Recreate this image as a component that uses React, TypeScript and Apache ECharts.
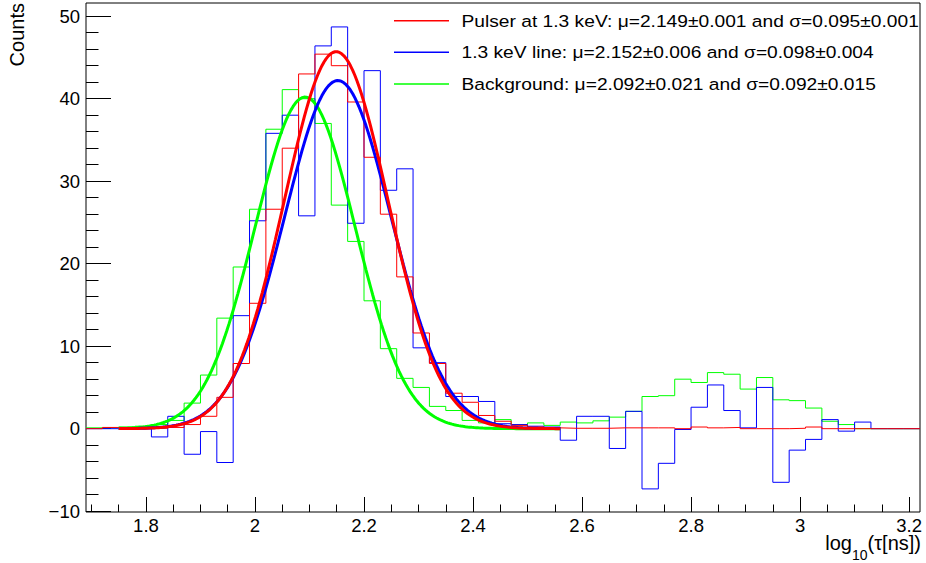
import React, { useEffect, useRef } from "react";
import * as echarts from "echarts";

// ---- Data ----
const BIN_START = 1.69;
const BIN_WIDTH = 0.03;

// Pulser at 1.3 keV (red histogram)
const pulserCounts = [
  0.0, 0.15, 0.1, 0.05, 0.05, 0.15, 0.5, 1.5, 3.8, 7.9,
  15.2, 26.6, 34.0, 43.0, 45.4, 44.0, 39.6, 32.9, 26.0, 18.4,
  11.6, 7.9, 4.3, 3.2, 1.6, 0.9, 0.4, 0.2, 0.1, 0.05,
  0.05, 0.05, 0.1, 0.1, 0.1, 0.1, 0.0, 0.2, 0.1, 0.15,
  0.0, 0.0, 0.0, 0.05, 0.2, 0.0, 0.0, 0.0, 0.0, 0.0, 0.0,
];

// 1.3 keV line (blue histogram)
const lineCounts = [
  0, 0, 0, 0, -1.0, 1.5, -3.1, -0.35, -4.1, 13.7,
  25.2, 35.8, 38.0, 25.8, 46.4, 48.7, 24.9, 43.4, 28.9, 31.5,
  9.8, 8.0, 3.9, 3.9, 3.3, 0.6, 0.5, 0.3, 0.2, -1.4,
  1.5, 1.5, -2.4, 2.1, -7.3, -4.2, -0.1, 2.6, 5.3, 2.2,
  0.1, 5.0, -6.5, -2.6, -1.3, 1.1, -0.3, 0.8, 0, 0, 0,
];

// Background (green histogram)
const backgroundCounts = [
  0.1, 0.1, 0.2, 0.3, 0.5, 1.0, 3.1, 6.5, 13.4, 19.6,
  26.6, 36.3, 41.1, 40.0, 37.0, 27.1, 22.7, 15.5, 9.7, 6.1,
  5.0, 2.7, 2.2, 1.0, 0.7, 1.1, 0.5, 0.7, 0.4, 0.8,
  0.7, 0.95, 1.4, 2.1, 3.9, 4.0, 6.0, 5.6, 6.8, 6.6,
  4.8, 6.2, 3.5, 3.4, 2.5, 0.9, 0.5, 0.0, 0, 0, 0,
];

// Gaussian fit parameters (legend values; amplitude)
const fitNames = [
  "Pulser at 1.3 keV: μ=2.149±0.001 and σ=0.095±0.001",
  "1.3 keV line: μ=2.152±0.006 and σ=0.098±0.004",
  "Background: μ=2.092±0.021 and σ=0.092±0.015",
];
const fitMu = [2.149, 2.152, 2.092];
const fitSigma = [0.095, 0.098, 0.092];
const fitAmp = [45.7, 42.2, 40.2];
const fitRange = [1.75, 2.56];

const seriesColors = ["#ff0000", "#0000ff", "#00ff00"];

// Axes
const X_MIN = 1.69;
const X_MAX = 3.22;
const Y_MIN = -10.1;
const Y_MAX = 51.6;
const xMajorTicks = [1.8, 2, 2.2, 2.4, 2.6, 2.8, 3, 3.2];
const xMinorTicks = [
  1.7, 1.75, 1.85, 1.9, 1.95, 2.05, 2.1, 2.15, 2.25, 2.3, 2.35, 2.45, 2.5, 2.55,
  2.65, 2.7, 2.75, 2.85, 2.9, 2.95, 3.05, 3.1, 3.15,
];
const yMajorTicks = [-10, 0, 10, 20, 30, 40, 50];
const yMinorTicks = [
  -8, -6, -4, -2, 2, 4, 6, 8, 12, 14, 16, 18, 22, 24, 26, 28, 32, 34, 36, 38,
  42, 44, 46, 48,
];

const FONT = "Liberation Sans, Arial, Helvetica, sans-serif";

function histPoints(vals: number[]): number[][] {
  const pts: number[][] = [];
  vals.forEach((v, i) => {
    const x0 = +(BIN_START + i * BIN_WIDTH).toFixed(4);
    const x1 = +(BIN_START + (i + 1) * BIN_WIDTH).toFixed(4);
    pts.push([x0, v], [x1, v]);
  });
  return pts;
}

function gaussPoints(k: number): number[][] {
  const pts: number[][] = [];
  const n = 200;
  for (let i = 0; i <= n; i++) {
    const x = fitRange[0] + ((fitRange[1] - fitRange[0]) * i) / n;
    const z = (x - fitMu[k]) / fitSigma[k];
    pts.push([x, fitAmp[k] * Math.exp(-0.5 * z * z)]);
  }
  return pts;
}

function measure(text: string, font: string): number {
  const c = document.createElement("canvas").getContext("2d");
  if (!c) return text.length * 8;
  c.font = font;
  return c.measureText(text).width;
}

export default function App() {
  const ref = useRef<HTMLDivElement>(null);

  useEffect(() => {
    if (!ref.current) return;
    const chart = echarts.init(ref.current, undefined, { renderer: "svg" });

    const hists = [pulserCounts, lineCounts, backgroundCounts];
    const histOrder = [2, 1, 0];
    const histSeries = histOrder.map((k) => ({
      type: "line",
      name: "hist" + k,
      data: histPoints(hists[k]),
      showSymbol: false,
      symbol: "none",
      silent: true,
      lineStyle: { color: seriesColors[k], width: 1 },
      xAxisIndex: 0,
      yAxisIndex: 0,
      z: 2,
    }));
    const fitOrder = [2, 1, 0];
    const fitSeries = fitOrder.map((k) => ({
      type: "line",
      name: fitNames[k],
      data: gaussPoints(k),
      showSymbol: false,
      symbol: "none",
      silent: true,
      color: seriesColors[k],
      lineStyle: { color: seriesColors[k], width: 3 },
      xAxisIndex: 0,
      yAxisIndex: 0,
      z: 3,
    }));

    const titleFont = 20;
    const subFont = 14;
    const partC = "(τ[ns])";
    const wC = measure(partC, `${titleFont}px Liberation Sans`);
    const wB = measure("10", `${subFont}px Liberation Sans`);
    const xRight = 921;

    const tickLine = { color: "#000", width: 1 };

    // Legend drawn as graphic (line sample + text), ROOT TLegend-like
    const legendRowY = [20.7, 52.3, 84];
    const legendGraphics: any[] = [];
    fitNames.forEach((name, k) => {
      legendGraphics.push({
        type: "line",
        shape: { x1: 394, y1: legendRowY[k], x2: 449, y2: legendRowY[k] },
        style: { stroke: seriesColors[k], lineWidth: 1.5 },
        z: 10,
      });
      legendGraphics.push({
        type: "text",
        x: 461.5,
        y: legendRowY[k] + 0.5,
        scaleX: 1.13,
        style: {
          text: name,
          fontSize: 17,
          fontFamily: FONT,
          fill: "#000",
          align: "left",
          verticalAlign: "middle",
        },
        z: 10,
      });
    });

    const option: any = {
      animation: false,
      backgroundColor: "#ffffff",
      grid: {
        left: 86,
        right: 6,
        top: 3,
        bottom: 51,
        show: true,
        borderColor: "#000",
        borderWidth: 1,
        backgroundColor: "transparent",
      },
      xAxis: [
        {
          type: "value",
          min: X_MIN,
          max: X_MAX,
          position: "bottom",
          axisLine: { show: false, onZero: false },
          splitLine: { show: false },
          axisTick: {
            show: true,
            inside: true,
            length: 15,
            customValues: xMajorTicks,
            lineStyle: tickLine,
          },
          axisLabel: {
            customValues: xMajorTicks,
            fontSize: 18.5,
            fontFamily: FONT,
            color: "#000",
            margin: 4,
            formatter: (v: number) => String(v),
          },
        },
        {
          type: "value",
          min: X_MIN,
          max: X_MAX,
          position: "bottom",
          axisLine: { show: false, onZero: false },
          splitLine: { show: false },
          axisTick: {
            show: true,
            inside: true,
            length: 7.5,
            customValues: xMinorTicks,
            lineStyle: tickLine,
          },
          axisLabel: { show: false },
        },
      ],
      yAxis: [
        {
          type: "value",
          min: Y_MIN,
          max: Y_MAX,
          position: "left",
          axisLine: { show: false, onZero: false },
          splitLine: { show: false },
          axisTick: {
            show: true,
            inside: true,
            length: 25,
            customValues: yMajorTicks,
            lineStyle: tickLine,
          },
          axisLabel: {
            customValues: yMajorTicks,
            fontSize: 18.5,
            fontFamily: FONT,
            color: "#000",
            margin: 6,
            formatter: (v: number) => String(v).replace("-", "\u2212"),
          },
        },
        {
          type: "value",
          min: Y_MIN,
          max: Y_MAX,
          position: "left",
          axisLine: { show: false, onZero: false },
          splitLine: { show: false },
          axisTick: {
            show: true,
            inside: true,
            length: 12.5,
            customValues: yMinorTicks,
            lineStyle: tickLine,
          },
          axisLabel: { show: false },
        },
      ],
      graphic: [
        ...legendGraphics,
        {
          type: "text",
          x: 16.5,
          y: 3,
          rotation: Math.PI / 2,
          style: {
            text: "Counts",
            fontSize: 20,
            fontFamily: FONT,
            fill: "#000",
            align: "right",
            verticalAlign: "middle",
          },
        },
        {
          type: "text",
          x: xRight,
          y: 543,
          style: {
            text: partC,
            fontSize: titleFont,
            fontFamily: FONT,
            fill: "#000",
            align: "right",
            verticalAlign: "middle",
          },
        },
        {
          type: "text",
          x: xRight - wC,
          y: 555,
          style: {
            text: "10",
            fontSize: subFont,
            fontFamily: FONT,
            fill: "#000",
            align: "right",
            verticalAlign: "middle",
          },
        },
        {
          type: "text",
          x: xRight - wC - wB,
          y: 543,
          style: {
            text: "log",
            fontSize: titleFont,
            fontFamily: FONT,
            fill: "#000",
            align: "right",
            verticalAlign: "middle",
          },
        },
      ],
      series: [...histSeries, ...fitSeries],
    };

    chart.setOption(option);
    return () => chart.dispose();
  }, []);

  return (
    <div
      ref={ref}
      style={{ position: "absolute", left: 0, top: 0, width: 926, height: 563 }}
    />
  );
}
